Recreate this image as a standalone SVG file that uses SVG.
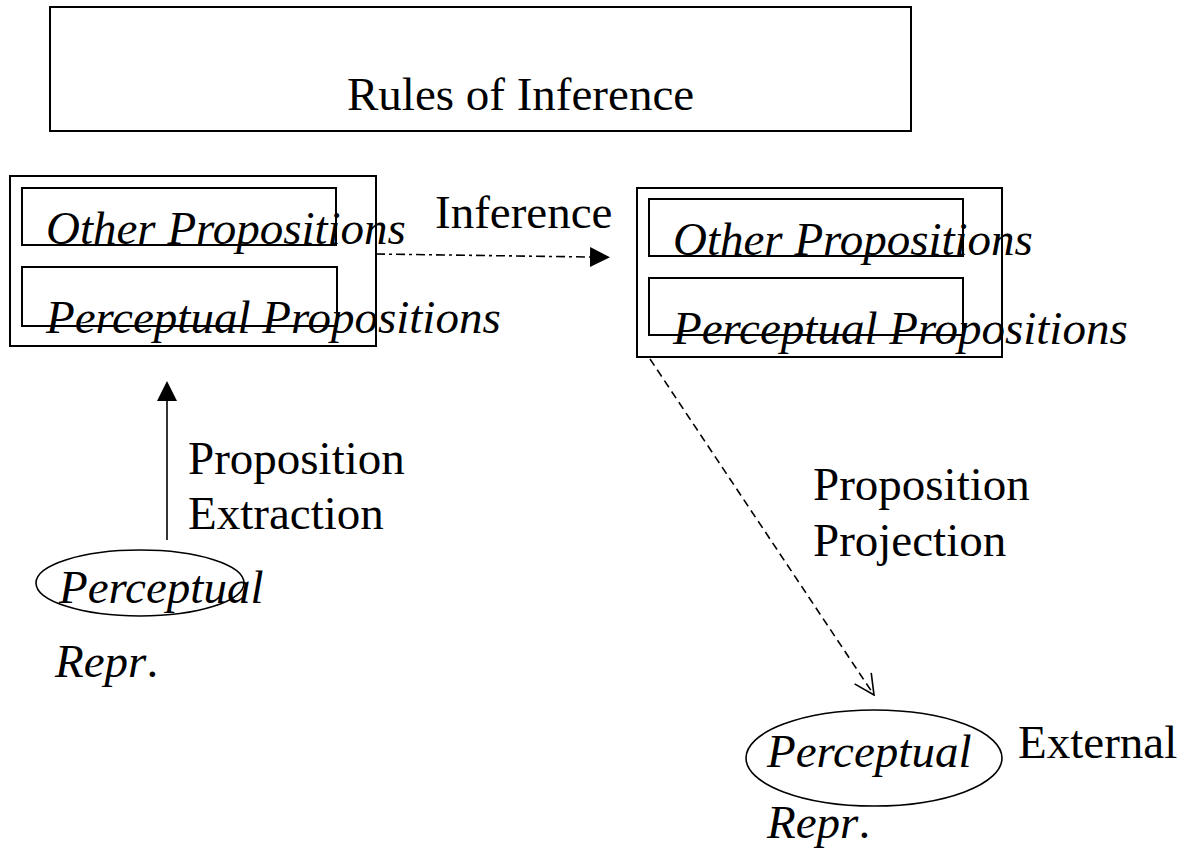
<svg xmlns="http://www.w3.org/2000/svg" width="1198" height="850" viewBox="0 0 1198 850">
<style>
text{font-family:"Liberation Serif","Times New Roman",serif;font-size:47px;fill:#000}
.it{font-style:italic}
.box{fill:none;stroke:#000;stroke-width:2}
.ell{fill:none;stroke:#000;stroke-width:1.6}
.conn{fill:none;stroke:#000;stroke-width:1.6}
.dashdot{stroke-dasharray:9 4 3 4}
.dash{stroke-dasharray:8 5}
</style>
<defs>
<marker id="solid" markerUnits="userSpaceOnUse" markerWidth="20" markerHeight="20" viewBox="0 0 20 20" refX="0" refY="10" orient="auto">
<path d="M0,0 L20,10 L0,20 Z" fill="#000"/>
</marker>
<marker id="open" markerUnits="userSpaceOnUse" markerWidth="22" markerHeight="22" viewBox="-1 -1 22 22" refX="20" refY="10" orient="auto">
<path d="M0,0 L20,10 L0,20" fill="none" stroke="#000" stroke-width="1.6"/>
</marker>
</defs>
<rect width="1198" height="850" fill="#fff"/>
<g id="rules">
<rect class="box" x="50" y="7" width="861" height="124"/>
<text x="347" y="110">Rules of Inference</text>
</g>
<g id="left-props">
<rect class="box" x="10" y="176" width="366" height="170"/>
<rect class="box" x="22" y="188" width="314" height="57"/>
<rect class="box" x="22" y="267" width="315" height="59"/>
<text class="it" x="46" y="244">Other Propositions</text>
<text class="it" x="46" y="333">Perceptual Propositions</text>
</g>
<g id="right-props">
<rect class="box" x="637" y="188" width="365" height="169"/>
<rect class="box" x="649" y="199" width="314" height="57"/>
<rect class="box" x="649" y="278" width="314" height="57"/>
<text class="it" x="673" y="255">Other Propositions</text>
<text class="it" x="673" y="344">Perceptual Propositions</text>
</g>
<g id="perceptual-left">
<ellipse class="ell" cx="140" cy="583" rx="104" ry="33"/>
<text class="it" x="59" y="603">Perceptual</text>
<text x="55" y="677"><tspan class="it">Repr</tspan>.</text>
</g>
<g id="perceptual-right">
<ellipse class="ell" cx="874" cy="758" rx="128" ry="48"/>
<text class="it" x="767" y="767">Perceptual</text>
<text x="767" y="838"><tspan class="it">Repr</tspan>.</text>
<text x="1018" y="758">External</text>
</g>
<g id="connectors">
<line class="conn dashdot" x1="376" y1="254" x2="590" y2="257" marker-end="url(#solid)"/>
<line class="conn" x1="167" y1="540" x2="167" y2="401" marker-end="url(#solid)"/>
<line class="conn dash" x1="650" y1="359" x2="874" y2="695" marker-end="url(#open)"/>
</g>
<g id="labels">
<text x="435" y="228">Inference</text>
<text x="188" y="474">Proposition</text>
<text x="188" y="529">Extraction</text>
<text x="813" y="500">Proposition</text>
<text x="813" y="556">Projection</text>
</g>
</svg>
